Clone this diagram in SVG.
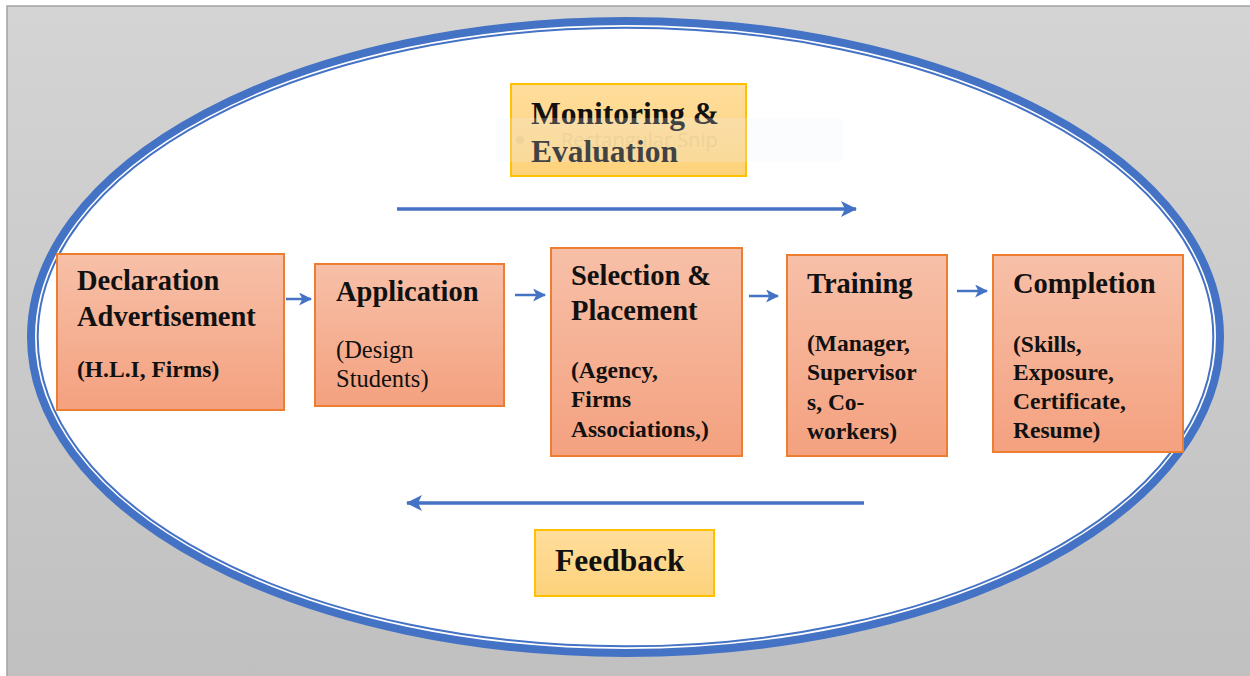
<svg xmlns="http://www.w3.org/2000/svg" width="1250" height="676" viewBox="0 0 1250 676">
  <defs>
    <linearGradient id="bg" x1="0" y1="0" x2="0" y2="1">
      <stop offset="0" stop-color="#d4d4d4"/>
      <stop offset="1" stop-color="#c0c0c0"/>
    </linearGradient>
    <linearGradient id="stepFill" x1="0" y1="0" x2="0" y2="1">
      <stop offset="0" stop-color="#f7c0a8"/>
      <stop offset="1" stop-color="#f4a17f"/>
    </linearGradient>
    <linearGradient id="noteFill" x1="0" y1="0" x2="0" y2="1">
      <stop offset="0" stop-color="#ffdd9c"/>
      <stop offset="1" stop-color="#fdd27a"/>
    </linearGradient>
    <marker id="headLarge" viewBox="0 0 16 16" refX="15" refY="8" markerWidth="16" markerHeight="16" markerUnits="userSpaceOnUse" orient="auto">
      <path d="M0,0 L16,8 L0,16 L4,8 Z" fill="#4472c4"/>
    </marker>
    <marker id="headSmall" viewBox="0 0 12 12" refX="11" refY="6" markerWidth="13" markerHeight="13" markerUnits="userSpaceOnUse" orient="auto">
      <path d="M0,0 L12,6 L0,12 L3,6 Z" fill="#4472c4"/>
    </marker>
  </defs>
  <style>
    .step { fill: url(#stepFill); stroke: #ed7d31; stroke-width: 2; }
    .note { fill: url(#noteFill); stroke: #ffc000; stroke-width: 2; }
    .head { font-family: "Liberation Serif", "Times New Roman", serif; font-weight: bold; font-size: 28.5px; fill: #111; }
    .sub { font-family: "Liberation Serif", "Times New Roman", serif; font-weight: bold; font-size: 23.5px; fill: #111; }
    .subr { font-family: "Liberation Serif", "Times New Roman", serif; font-size: 24.5px; fill: #111; }
    .big { font-family: "Liberation Serif", "Times New Roman", serif; font-weight: bold; font-size: 31.5px; fill: #111; }
    .flow { stroke: #4472c4; fill: none; stroke-width: 3.5; }
    .link { stroke: #4472c4; fill: none; stroke-width: 2.5; }
  </style>

  <!-- page background -->
  <rect x="0" y="0" width="1250" height="676" fill="#ffffff"/>
  <rect x="7" y="6" width="1250" height="680" fill="url(#bg)" stroke="#a2a2a2" stroke-width="1.5"/>

  <!-- double-lined ellipse -->
  <ellipse cx="625.5" cy="337" rx="594.5" ry="316" fill="#ffffff" stroke="#4472c4" stroke-width="8"/>
  <ellipse cx="625.5" cy="337" rx="587.8" ry="309.3" fill="none" stroke="#4472c4" stroke-width="2"/>

  <g id="connectors">
    <line class="flow" x1="397" y1="209" x2="856" y2="209" marker-end="url(#headLarge)"/>
    <line class="flow" x1="864" y1="503" x2="407" y2="503" marker-end="url(#headLarge)"/>
    <line class="link" x1="286" y1="299" x2="311" y2="299" marker-end="url(#headSmall)"/>
    <line class="link" x1="515" y1="295" x2="545" y2="295" marker-end="url(#headSmall)"/>
    <line class="link" x1="749" y1="296" x2="778" y2="296" marker-end="url(#headSmall)"/>
    <line class="link" x1="957" y1="291" x2="987" y2="291" marker-end="url(#headSmall)"/>
  </g>

  <g id="monitoring">
    <rect class="note" x="511" y="84" width="235" height="92"/>
    <text class="big" x="531" y="124">Monitoring &amp;</text>
    <text class="big" x="531" y="162">Evaluation</text>
  </g>

  <!-- faint snip tool overlay -->
  <g id="snip-overlay">
    <rect x="496" y="118" width="346" height="44" fill="#eef3fc" opacity="0.22"/>
    <circle cx="520" cy="140" r="4" fill="#9a8a70" opacity="0.1"/>
    <text x="561" y="147" font-family="'Open Sans', 'Liberation Sans', sans-serif" font-size="20" fill="#8a7a60" opacity="0.1">Rectangular Snip</text>
  </g>

  <g id="declaration">
    <rect class="step" x="57" y="254" width="227" height="156"/>
    <text class="head" x="77" y="290">Declaration</text>
    <text class="head" x="77" y="326">Advertisement</text>
    <text class="sub" x="77" y="377">(H.L.I, Firms)</text>
  </g>

  <g id="application">
    <rect class="step" x="315" y="264" width="189" height="142"/>
    <text class="head" x="336" y="301">Application</text>
    <text class="subr" x="336" y="358">(Design</text>
    <text class="subr" x="336" y="387">Students)</text>
  </g>

  <g id="selection">
    <rect class="step" x="551" y="248" width="191" height="208"/>
    <text class="head" x="571" y="285">Selection &amp;</text>
    <text class="head" x="571" y="320">Placement</text>
    <text class="sub" x="571" y="378">(Agency,</text>
    <text class="sub" x="571" y="407">Firms</text>
    <text class="sub" x="571" y="437">Associations,)</text>
  </g>

  <g id="training">
    <rect class="step" x="787" y="255" width="160" height="201"/>
    <text class="head" x="807" y="293">Training</text>
    <text class="sub" x="807" y="351">(Manager,</text>
    <text class="sub" x="807" y="380">Supervisor</text>
    <text class="sub" x="807" y="410">s, Co-</text>
    <text class="sub" x="807" y="439">workers)</text>
  </g>

  <g id="completion">
    <rect class="step" x="993" y="255" width="190" height="197"/>
    <text class="head" x="1013" y="293">Completion</text>
    <text class="sub" x="1013" y="352">(Skills,</text>
    <text class="sub" x="1013" y="380">Exposure,</text>
    <text class="sub" x="1013" y="409">Certificate,</text>
    <text class="sub" x="1013" y="438">Resume)</text>
  </g>

  <g id="feedback">
    <rect class="note" x="535" y="530" width="179" height="66"/>
    <text class="big" x="555" y="571">Feedback</text>
  </g>
</svg>
